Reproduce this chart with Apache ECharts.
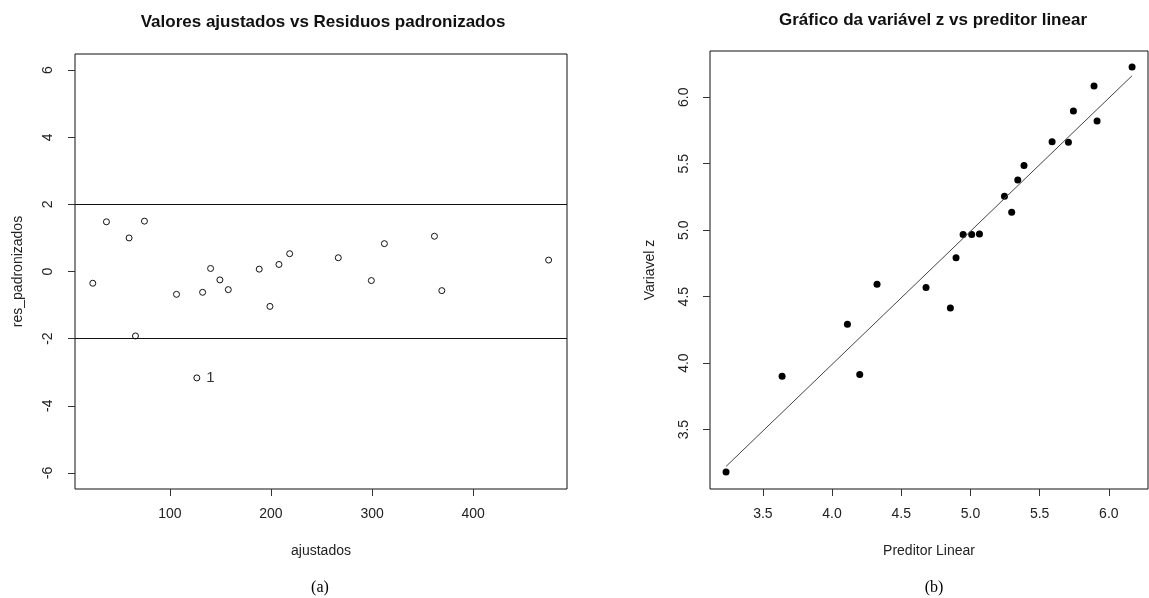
<!DOCTYPE html>
<html>
<head>
<meta charset="utf-8">
<script src="https://cdn.jsdelivr.net/npm/echarts@6/dist/echarts.min.js"></script>
<style>
html,body{margin:0;padding:0;background:#fff;}
#chart{width:1149px;height:598px;}
</style>
</head>
<body>
<div id="chart"></div>
<script>
// ---- Data ----
const ajustados = [126.7, 23.8, 37.3, 59.7, 66.0, 74.9, 106.6, 132.4, 140.3, 149.5, 157.8, 188.4, 199.0, 207.9, 218.5, 266.6, 299.3, 312.2, 361.7, 369.0, 474.6];
const resPadronizados = [-3.17, -0.35, 1.48, 1.00, -1.92, 1.50, -0.68, -0.62, 0.09, -0.25, -0.54, 0.07, -1.04, 0.21, 0.53, 0.41, -0.27, 0.83, 1.05, -0.57, 0.34];
const pointLabels = ['1', '', '', '', '', '', '', '', '', '', '', '', '', '', '', '', '', '', '', '', ''];
const refLines = [2, -2];

const preditorLinear = [3.234, 3.639, 4.111, 4.200, 4.325, 4.679, 4.855, 4.896, 4.947, 5.009, 5.065, 5.246, 5.298, 5.342, 5.387, 5.590, 5.708, 5.744, 5.893, 5.915, 6.168];
const variavelZ = [3.180, 3.902, 4.293, 3.914, 4.594, 4.568, 4.414, 4.792, 4.967, 4.967, 4.972, 5.256, 5.135, 5.378, 5.486, 5.666, 5.662, 5.897, 6.085, 5.822, 6.228];
const fitX = [3.234, 6.168];
const fitY = [3.223, 6.162];

const leftXTicks = [100, 200, 300, 400];
const leftYTicks = [-6, -4, -2, 0, 2, 4, 6];
const rightXTicks = [3.5, 4.0, 4.5, 5.0, 5.5, 6.0];
const rightYTicks = [3.5, 4.0, 4.5, 5.0, 5.5, 6.0];

const titles = ['Valores ajustados vs Residuos padronizados', 'Gráfico da variável z vs preditor linear'];
const axisNames = { leftX: 'ajustados', leftY: 'res_padronizados', rightX: 'Preditor Linear', rightY: 'Variavel z' };
const panelLabels = ['(a)', '(b)'];

// ---- Chart ----
const FONT = '"Liberation Sans", Arial, sans-serif';
const textCol = '#222';

function xAxisCfg(gridIndex, min, max, ticks, name, fmt) {
  return {
    type: 'value', gridIndex, min, max,
    name, nameLocation: 'middle', nameGap: 55,
    nameTextStyle: { fontFamily: FONT, fontSize: 14, color: textCol },
    axisLine: { show: false, onZero: false },
    axisTick: { show: true, length: 7, customValues: ticks, lineStyle: { color: '#333', width: 1 } },
    axisLabel: { customValues: ticks, margin: 18, fontFamily: FONT, fontSize: 14, color: textCol, formatter: fmt },
    splitLine: { show: false }
  };
}
function yAxisCfg(gridIndex, min, max, ticks, name, gap, margin, fmt) {
  return {
    type: 'value', gridIndex, min, max,
    name, nameLocation: 'middle', nameGap: gap,
    nameTextStyle: { fontFamily: FONT, fontSize: 14, color: textCol },
    axisLine: { show: false, onZero: false },
    axisTick: { show: true, length: 7, customValues: ticks, lineStyle: { color: '#333', width: 1 } },
    axisLabel: { customValues: ticks, rotate: 90, margin, fontFamily: FONT, fontSize: 14, color: textCol, formatter: fmt },
    splitLine: { show: false }
  };
}

const chart = echarts.init(document.getElementById('chart'), null, { renderer: 'canvas' });
chart.setOption({
  animation: false,
  backgroundColor: '#fff',
  title: [
    { text: titles[0], left: 318, top: 9, textAlign: 'center',
      textStyle: { fontFamily: FONT, fontSize: 17, fontWeight: 'bold', color: '#111' } },
    { text: titles[1], left: 928, top: 7, textAlign: 'center',
      textStyle: { fontFamily: FONT, fontSize: 17, fontWeight: 'bold', color: '#111' } }
  ],
  grid: [
    { left: 75, top: 54, width: 492, height: 435, show: true, borderColor: '#111', borderWidth: 1, backgroundColor: 'transparent' },
    { left: 710, top: 51, width: 438, height: 438, show: true, borderColor: '#111', borderWidth: 1, backgroundColor: 'transparent' }
  ],
  xAxis: [
    xAxisCfg(0, 6.2, 492.8, leftXTicks, axisNames.leftX, v => String(v)),
    xAxisCfg(1, 3.118, 6.283, rightXTicks, axisNames.rightX, v => v.toFixed(1))
  ],
  yAxis: [
    yAxisCfg(0, -6.48, 6.48, leftYTicks, axisNames.leftY, 50, 20, v => String(v)),
    yAxisCfg(1, 3.053, 6.348, rightYTicks, axisNames.rightY, 53, 19, v => v.toFixed(1))
  ],
  series: [
    {
      type: 'scatter', xAxisIndex: 0, yAxisIndex: 0,
      symbol: 'circle', symbolSize: 6,
      itemStyle: { color: 'rgba(0,0,0,0)', borderColor: '#111', borderWidth: 1, opacity: 1 },
      data: ajustados.map((x, i) => ({
        value: [x, resPadronizados[i]],
        label: pointLabels[i] ? { show: true, position: 'right', distance: 6, formatter: pointLabels[i],
          fontFamily: FONT, fontSize: 15, color: '#333' } : { show: false }
      })),
      markLine: {
        silent: true, symbol: 'none', animation: false,
        lineStyle: { color: '#111', width: 1, type: 'solid' },
        label: { show: false },
        data: refLines.map(v => ({ yAxis: v }))
      }
    },
    {
      type: 'scatter', xAxisIndex: 1, yAxisIndex: 1,
      symbol: 'circle', symbolSize: 7,
      itemStyle: { color: '#000', opacity: 1 },
      data: preditorLinear.map((x, i) => [x, variavelZ[i]])
    },
    {
      type: 'line', xAxisIndex: 1, yAxisIndex: 1,
      showSymbol: false, symbol: 'none',
      lineStyle: { color: '#444', width: 1 },
      data: fitX.map((x, i) => [x, fitY[i]])
    }
  ],
  graphic: [
    { type: 'text', x: 320, y: 588, style: { text: panelLabels[0], fontFamily: '"Liberation Serif", "Times New Roman", serif', fontSize: 16, fill: '#000', align: 'center', verticalAlign: 'middle' } },
    { type: 'text', x: 934, y: 588, style: { text: panelLabels[1], fontFamily: '"Liberation Serif", "Times New Roman", serif', fontSize: 16, fill: '#000', align: 'center', verticalAlign: 'middle' } }
  ]
});
</script>
</body>
</html>
